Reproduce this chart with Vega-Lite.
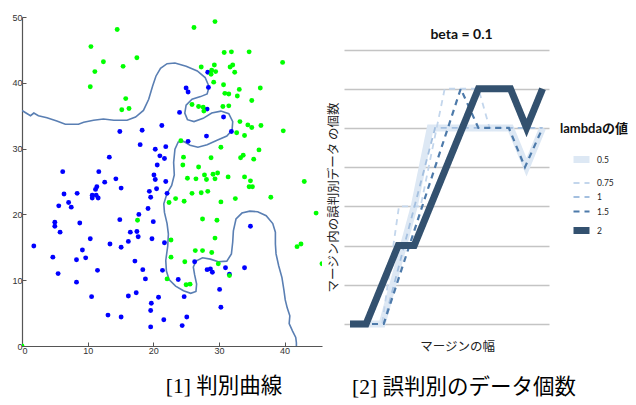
{
  "$schema": "https://vega.github.io/schema/vega-lite/v6.json",
  "padding": {"left": 11, "top": 13, "right": 0, "bottom": 0},
  "bounds": "flush",
  "spacing": 22,
  "config": {"view": {"stroke": null}, "font": "Liberation Sans"},
  "resolve": {"scale": {"color": "independent", "strokeDash": "independent", "strokeWidth": "independent"}, "legend": {"color": "independent", "strokeDash": "independent"}},
  "title": {"text": "[2] 誤判別のデータ個数", "orient": "bottom", "anchor": "start", "dx": 340, "dy": -21, "offset": 0, "font": "Liberation Serif, Noto Sans CJK JP", "fontSize": 21.5, "fontWeight": "normal", "color": "#000"},
  "datasets": {
    "curve": [
      {"i":0,"x":0,"y":35.8},{"i":1,"x":0.8,"y":35.3},{"i":2,"x":1.3,"y":35.0},{"i":3,"x":1.8,"y":35.4},{"i":4,"x":2.5,"y":35.0},
      {"i":5,"x":3.8,"y":34.7},{"i":6,"x":5.3,"y":34.2},{"i":7,"x":6.6,"y":33.7},{"i":8,"x":8.6,"y":33.7},{"i":9,"x":9.4,"y":34.0},
      {"i":10,"x":10.9,"y":34.3},{"i":11,"x":12.4,"y":34.5},{"i":12,"x":14.0,"y":34.3},{"i":13,"x":16.0,"y":34.3},{"i":14,"x":17.3,"y":34.8},
      {"i":15,"x":18.5,"y":35.8},{"i":16,"x":19.3,"y":37.5},{"i":17,"x":19.9,"y":39.5},{"i":18,"x":20.4,"y":41.0},{"i":19,"x":21.1,"y":42.2},
      {"i":20,"x":22.1,"y":42.9},{"i":21,"x":23.3,"y":43.0},{"i":22,"x":25.0,"y":42.5},{"i":23,"x":26.7,"y":41.8},{"i":24,"x":27.9,"y":40.8},
      {"i":25,"x":28.5,"y":39.4},{"i":26,"x":28.2,"y":38.3},{"i":27,"x":27.2,"y":37.9},{"i":28,"x":25.9,"y":37.5},{"i":29,"x":25.0,"y":36.6},
      {"i":30,"x":24.8,"y":35.4},{"i":31,"x":25.2,"y":34.4},{"i":32,"x":26.2,"y":34.1},{"i":33,"x":27.6,"y":34.6},{"i":34,"x":28.9,"y":35.4},
      {"i":35,"x":30.3,"y":35.7},{"i":36,"x":31.5,"y":35.3},{"i":37,"x":32.1,"y":34.1},{"i":38,"x":32.0,"y":32.8},{"i":39,"x":31.2,"y":31.9},
      {"i":40,"x":29.8,"y":31.3},{"i":41,"x":28.2,"y":30.6},{"i":42,"x":26.8,"y":30.2},{"i":43,"x":25.6,"y":30.5},{"i":44,"x":24.6,"y":31.1},
      {"i":45,"x":23.8,"y":31.0},{"i":46,"x":23.3,"y":29.9},{"i":47,"x":23.1,"y":27.9},{"i":48,"x":23.2,"y":26.0},{"i":49,"x":22.8,"y":24.4},
      {"i":50,"x":22.1,"y":23.2},{"i":51,"x":21.6,"y":21.6},{"i":52,"x":21.7,"y":20.3},{"i":53,"x":22.1,"y":18.6},{"i":54,"x":22.3,"y":17.0},
      {"i":55,"x":22.2,"y":15.2},{"i":56,"x":21.9,"y":13.0},{"i":57,"x":22.0,"y":11.4},{"i":58,"x":22.4,"y":10.1},{"i":59,"x":23.4,"y":9.1},
      {"i":60,"x":24.6,"y":8.4},{"i":61,"x":25.7,"y":8.0},{"i":62,"x":26.5,"y":8.3},{"i":63,"x":26.6,"y":9.4},{"i":64,"x":26.3,"y":10.8},
      {"i":65,"x":26.1,"y":12.0},{"i":66,"x":26.5,"y":12.9},{"i":67,"x":27.5,"y":13.4},{"i":68,"x":28.7,"y":13.2},{"i":69,"x":29.9,"y":12.8},
      {"i":70,"x":31.2,"y":12.9},{"i":71,"x":31.9,"y":14.0},{"i":72,"x":32.1,"y":15.8},{"i":73,"x":32.2,"y":17.5},{"i":74,"x":32.6,"y":19.3},
      {"i":75,"x":33.5,"y":20.2},{"i":76,"x":34.7,"y":20.5},{"i":77,"x":35.9,"y":20.4},{"i":78,"x":37.2,"y":19.8},{"i":79,"x":38.2,"y":18.6},
      {"i":80,"x":38.6,"y":17.3},{"i":81,"x":38.6,"y":15.5},{"i":82,"x":38.7,"y":14.0},{"i":83,"x":39.1,"y":12.2},{"i":84,"x":39.6,"y":10.4},
      {"i":85,"x":39.9,"y":8.5},{"i":86,"x":40.1,"y":7.0},{"i":87,"x":40.4,"y":5.8},{"i":88,"x":40.8,"y":4.6},{"i":89,"x":40.7,"y":3.4},
      {"i":90,"x":41.2,"y":2.3},{"i":91,"x":41.7,"y":1.3},{"i":92,"x":41.8,"y":0.5},{"i":93,"x":41.8,"y":0}
    ],
    "pts": [
      {"c":"b","x":28.3,"y":41.6},{"c":"b","x":25.0,"y":39.2},{"c":"b","x":25.3,"y":38.6},{"c":"b","x":28.4,"y":39.3},{"c":"b","x":24.0,"y":35.5},
      {"c":"b","x":28.2,"y":36.0},{"c":"b","x":30.7,"y":34.8},{"c":"b","x":31.9,"y":32.6},{"c":"b","x":28.1,"y":31.9},{"c":"b","x":25.3,"y":31.1},
      {"c":"b","x":21.3,"y":33.5},{"c":"b","x":18.3,"y":32.8},{"c":"b","x":14.9,"y":32.6},{"c":"b","x":18.0,"y":30.6},{"c":"b","x":20.3,"y":29.9},
      {"c":"b","x":21.9,"y":30.3},{"c":"b","x":21.0,"y":28.9},{"c":"b","x":21.7,"y":28.5},{"c":"b","x":20.6,"y":27.5},{"c":"b","x":13.3,"y":28.7},
      {"c":"b","x":6.2,"y":26.5},{"c":"b","x":11.7,"y":26.5},{"c":"b","x":20.1,"y":26.0},{"c":"b","x":20.3,"y":25.3},{"c":"b","x":21.9,"y":25.0},
      {"c":"b","x":14.3,"y":25.4},{"c":"b","x":12.6,"y":24.9},{"c":"b","x":15.1,"y":24.0},{"c":"b","x":20.5,"y":23.9},{"c":"b","x":11.4,"y":24.2},
      {"c":"b","x":11.2,"y":23.8},{"c":"b","x":19.4,"y":23.5},{"c":"b","x":22.1,"y":23.2},{"c":"b","x":6.4,"y":23.1},{"c":"b","x":8.4,"y":23.2},
      {"c":"b","x":10.7,"y":22.9},{"c":"b","x":11.3,"y":22.9},{"c":"b","x":10.7,"y":22.5},{"c":"b","x":11.6,"y":22.5},{"c":"b","x":7.1,"y":21.8},
      {"c":"b","x":7.5,"y":21.1},{"c":"b","x":19.6,"y":22.6},{"c":"b","x":5.6,"y":21.3},{"c":"b","x":19.2,"y":20.9},{"c":"b","x":17.8,"y":20.0},
      {"c":"b","x":20.0,"y":18.9},{"c":"b","x":14.9,"y":19.2},{"c":"b","x":8.8,"y":18.7},{"c":"b","x":5.0,"y":18.8},{"c":"b","x":5.0,"y":18.2},
      {"c":"b","x":5.8,"y":17.3},{"c":"b","x":16.5,"y":17.3},{"c":"b","x":17.5,"y":17.4},{"c":"b","x":17.7,"y":16.6},{"c":"b","x":10.4,"y":16.3},
      {"c":"b","x":19.8,"y":16.3},{"c":"b","x":16.2,"y":15.9},{"c":"b","x":13.4,"y":15.5},{"c":"b","x":21.7,"y":15.7},{"c":"b","x":1.8,"y":15.2},
      {"c":"b","x":9.2,"y":14.6},{"c":"b","x":15.1,"y":15.0},{"c":"b","x":4.7,"y":13.5},{"c":"b","x":8.3,"y":13.1},{"c":"b","x":9.7,"y":13.4},
      {"c":"b","x":17.2,"y":12.9},{"c":"b","x":18.4,"y":11.6},{"c":"b","x":11.5,"y":11.5},{"c":"b","x":21.4,"y":11.5},{"c":"b","x":5.5,"y":11.0},
      {"c":"b","x":18.8,"y":10.2},{"c":"b","x":23.8,"y":10.1},{"c":"b","x":8.3,"y":9.7},{"c":"b","x":26.3,"y":12.8},{"c":"b","x":28.2,"y":11.6},
      {"c":"b","x":28.7,"y":11.7},{"c":"b","x":29.0,"y":11.2},{"c":"b","x":31.0,"y":11.9},{"c":"b","x":31.6,"y":10.9},{"c":"b","x":33.9,"y":11.9},
      {"c":"b","x":34.8,"y":18.2},{"c":"b","x":30.1,"y":8.6},{"c":"b","x":24.7,"y":7.5},{"c":"b","x":10.6,"y":7.5},{"c":"b","x":16.2,"y":7.6},
      {"c":"b","x":17.4,"y":8.1},{"c":"b","x":20.8,"y":7.4},{"c":"b","x":19.7,"y":6.5},{"c":"b","x":30.3,"y":5.9},{"c":"b","x":19.6,"y":5.4},
      {"c":"b","x":13.1,"y":4.7},{"c":"b","x":15.1,"y":4.4},{"c":"b","x":25.1,"y":4.4},{"c":"b","x":21.6,"y":4.0},{"c":"b","x":24.4,"y":3.1},
      {"c":"b","x":19.6,"y":2.9},
      {"c":"g","x":14.5,"y":48.1},{"c":"g","x":26.2,"y":48.4},{"c":"g","x":29.4,"y":49.3},{"c":"g","x":10.5,"y":45.5},{"c":"g","x":11.1,"y":41.7},
      {"c":"g","x":12.4,"y":43.2},{"c":"g","x":17.5,"y":43.8},{"c":"g","x":15.4,"y":42.5},{"c":"g","x":10.4,"y":39.4},{"c":"g","x":15.8,"y":37.6},
      {"c":"g","x":15.2,"y":35.9},{"c":"g","x":16.3,"y":36.1},{"c":"g","x":27.3,"y":42.4},{"c":"g","x":29.3,"y":42.7},{"c":"g","x":28.9,"y":41.9},
      {"c":"g","x":28.8,"y":41.3},{"c":"g","x":29.5,"y":41.7},{"c":"g","x":29.2,"y":40.1},{"c":"g","x":30.8,"y":44.6},{"c":"g","x":31.9,"y":44.7},
      {"c":"g","x":34.6,"y":44.7},{"c":"g","x":31.7,"y":42.4},{"c":"g","x":32.1,"y":42.7},{"c":"g","x":32.4,"y":41.6},{"c":"g","x":30.7,"y":39.7},
      {"c":"g","x":33.1,"y":39.0},{"c":"g","x":36.3,"y":39.2},{"c":"g","x":39.7,"y":43.1},{"c":"g","x":30.9,"y":38.4},{"c":"g","x":31.5,"y":38.3},
      {"c":"g","x":32.8,"y":38.0},{"c":"g","x":35.0,"y":37.3},{"c":"g","x":25.9,"y":36.7},{"c":"g","x":26.9,"y":36.4},{"c":"g","x":27.6,"y":36.3},
      {"c":"g","x":27.7,"y":35.7},{"c":"g","x":30.6,"y":36.4},{"c":"g","x":31.5,"y":36.5},{"c":"g","x":33.2,"y":34.1},{"c":"g","x":34.4,"y":33.6},
      {"c":"g","x":35.0,"y":33.2},{"c":"g","x":36.4,"y":33.5},{"c":"g","x":32.7,"y":32.4},{"c":"g","x":33.9,"y":32.0},{"c":"g","x":39.8,"y":32.7},
      {"c":"g","x":24.2,"y":31.2},{"c":"g","x":30.3,"y":30.2},{"c":"g","x":24.6,"y":28.7},{"c":"g","x":24.5,"y":27.5},{"c":"g","x":28.8,"y":28.6},
      {"c":"g","x":26.9,"y":27.2},{"c":"g","x":33.7,"y":29.0},{"c":"g","x":33.3,"y":28.6},{"c":"g","x":35.3,"y":28.4},{"c":"g","x":36.1,"y":29.8},
      {"c":"g","x":25.2,"y":25.5},{"c":"g","x":26.5,"y":25.4},{"c":"g","x":27.8,"y":26.0},{"c":"g","x":28.1,"y":25.3},{"c":"g","x":29.1,"y":26.1},
      {"c":"g","x":29.8,"y":26.3},{"c":"g","x":29.4,"y":25.4},{"c":"g","x":31.4,"y":25.7},{"c":"g","x":33.9,"y":25.7},{"c":"g","x":34.8,"y":25.1},
      {"c":"g","x":34.6,"y":24.2},{"c":"g","x":35.1,"y":24.2},{"c":"g","x":43.0,"y":25.0},{"c":"g","x":22.4,"y":21.8},{"c":"g","x":23.4,"y":22.4},
      {"c":"g","x":24.7,"y":22.0},{"c":"g","x":25.9,"y":23.2},{"c":"g","x":27.3,"y":23.3},{"c":"g","x":28.3,"y":23.5},{"c":"g","x":30.3,"y":21.9},
      {"c":"g","x":32.5,"y":22.4},{"c":"g","x":37.9,"y":22.6},{"c":"g","x":17.6,"y":19.1},{"c":"g","x":27.5,"y":19.3},{"c":"g","x":29.7,"y":19.1},
      {"c":"g","x":44.8,"y":20.2},{"c":"g","x":22.7,"y":16.1},{"c":"g","x":29.4,"y":16.4},{"c":"g","x":26.4,"y":14.5},{"c":"g","x":27.5,"y":14.5},
      {"c":"g","x":28.9,"y":14.2},{"c":"g","x":41.9,"y":15.1},{"c":"g","x":42.5,"y":15.5},{"c":"g","x":22.7,"y":13.5},{"c":"g","x":24.8,"y":12.8},
      {"c":"g","x":29.9,"y":12.5},{"c":"g","x":31.6,"y":10.7},{"c":"g","x":22.1,"y":10.2},{"c":"g","x":25.0,"y":9.3},{"c":"g","x":25.6,"y":9.4},
      {"c":"g","x":45.7,"y":12.5},{"c":"g","x":0,"y":0}
    ],
    "lines": [
      {"lambda":0.5,"m":0,"n":0},{"lambda":0.5,"m":2,"n":0},{"lambda":0.5,"m":4,"n":3},{"lambda":0.5,"m":5,"n":5},{"lambda":0.5,"m":10,"n":5},{"lambda":0.5,"m":11,"n":4},{"lambda":0.5,"m":12,"n":5},
      {"lambda":0.75,"m":0,"n":0},{"lambda":0.75,"m":2,"n":0},{"lambda":0.75,"m":3.05,"n":3},{"lambda":0.75,"m":4.4,"n":3},{"lambda":0.75,"m":5.9,"n":6},{"lambda":0.75,"m":8,"n":6},{"lambda":0.75,"m":8.7,"n":5},{"lambda":0.75,"m":12,"n":5},
      {"lambda":1,"m":0,"n":0},{"lambda":1,"m":2.1,"n":0},{"lambda":1,"m":5.3,"n":5},{"lambda":1,"m":12,"n":5},
      {"lambda":1.5,"m":0,"n":0},{"lambda":1.5,"m":2.1,"n":0},{"lambda":1.5,"m":6.9,"n":6},{"lambda":1.5,"m":8,"n":5},{"lambda":1.5,"m":9.9,"n":5},{"lambda":1.5,"m":10.9,"n":4},{"lambda":1.5,"m":12,"n":5},
      {"lambda":2,"m":0,"n":0},{"lambda":2,"m":1,"n":0},{"lambda":2,"m":3,"n":2},{"lambda":2,"m":4,"n":2},{"lambda":2,"m":8,"n":6},{"lambda":2,"m":10,"n":6},{"lambda":2,"m":11,"n":5},{"lambda":2,"m":12,"n":6}
    ]
  },
  "hconcat": [
    {
      "width": 300,
      "height": 329,
      "title": {"text": "[1] 判別曲線", "orient": "bottom", "anchor": "middle", "dx": 52, "offset": 21, "font": "Liberation Serif, Noto Sans CJK JP", "fontSize": 21.5, "fontWeight": "normal", "color": "#000"},
      "layer": [
        {
          "data": {"name": "curve"},
          "mark": {"type": "line", "color": "#5a7fb3", "strokeWidth": 1.6, "clip": true},
          "encoding": {
            "x": {"field": "x", "type": "quantitative", "scale": {"domain": [0, 45.7], "nice": false, "zero": false},
                  "axis": {"title": null, "values": [0, 10, 20, 30, 40], "grid": false, "domainColor": "#555", "domainWidth": 1.2, "tickColor": "#555", "tickSize": -4, "labelPadding": 4, "labelFont": "Liberation Sans", "labelFontSize": 9, "labelColor": "#333"}},
            "y": {"field": "y", "type": "quantitative", "scale": {"domain": [0, 50], "nice": false, "zero": false},
                  "axis": {"title": null, "values": [0, 10, 20, 30, 40, 50], "grid": false, "domainColor": "#555", "domainWidth": 1.2, "tickColor": "#555", "tickSize": -4, "labelPadding": 4, "labelFont": "Liberation Sans", "labelFontSize": 9, "labelColor": "#333"}},
            "order": {"field": "i", "type": "quantitative"}
          }
        },
        {
          "data": {"name": "pts"},
          "mark": {"type": "circle", "size": 24, "opacity": 1, "clip": true},
          "encoding": {
            "x": {"field": "x", "type": "quantitative"},
            "y": {"field": "y", "type": "quantitative"},
            "color": {"field": "c", "type": "nominal", "scale": {"domain": ["b", "g"], "range": ["#0000ff", "#00ff00"]}, "legend": null}
          }
        }
      ]
    },
    {
      "width": 205,
      "height": 307,
      "data": {"name": "lines"},
      "title": {"text": "beta = 0.1", "orient": "top", "anchor": "middle", "dx": 15, "offset": -25, "font": "Lato", "fontSize": 14, "fontWeight": "bold", "color": "#111"},
      "mark": {"type": "line"},
      "encoding": {
        "x": {"field": "m", "type": "quantitative", "scale": {"domain": [-0.375, 12.4], "nice": false, "zero": false},
              "axis": {"title": "マージンの幅", "labels": false, "ticks": false, "domain": false, "grid": false, "titleFont": "Noto Sans CJK JP", "titleFontSize": 12.5, "titleFontWeight": "normal", "titleColor": "#222", "titlePadding": 16, "titleX": 113}},
        "y": {"field": "n", "type": "quantitative", "scale": {"domain": [0, 7.83], "nice": false, "zero": false},
              "axis": {"title": "マージン内の誤判別データ の個数", "values": [0, 1, 2, 3, 4, 5, 6, 7], "labels": false, "ticks": false, "domain": false, "grid": true, "gridColor": "#c4c4c4", "gridWidth": 1.5, "titleFont": "Noto Sans CJK JP", "titleFontSize": 12.5, "titleFontWeight": "normal", "titleColor": "#222", "titlePadding": 4, "titleY": 180}},
        "color": {"field": "lambda", "type": "nominal", "title": "lambdaの値",
                  "scale": {"domain": [0.5, 0.75, 1, 1.5, 2], "range": ["#dde8f4", "#c3d6ec", "#a3bfdf", "#4d7aaa", "#33516f"]},
                  "legend": {"orient": "none", "legendX": 216, "legendY": 106, "titleFont": "Lato, Noto Sans CJK JP", "titleFontSize": 13, "titleFontWeight": "bold", "titleColor": "#111", "titlePadding": 12, "labelFont": "Lato", "labelFontSize": 8.5, "labelColor": "#222", "symbolType": "stroke", "symbolSize": 256, "symbolStrokeWidth": 2.5, "symbolOffset": 10, "labelOffset": 4, "rowPadding": 0}},
        "strokeDash": {"field": "lambda", "type": "nominal", "title": "lambdaの値",
                  "scale": {"domain": [0.5, 0.75, 1, 1.5, 2], "range": [[1, 0], [6, 5], [6, 5], [6, 5], [1, 0]]}},
        "strokeWidth": {"field": "lambda", "type": "quantitative", "scale": {"domain": [0.5, 0.75, 1, 1.5, 2], "range": [7, 1.8, 1.8, 2.2, 7]}, "legend": null}
      }
    }
  ]
}
